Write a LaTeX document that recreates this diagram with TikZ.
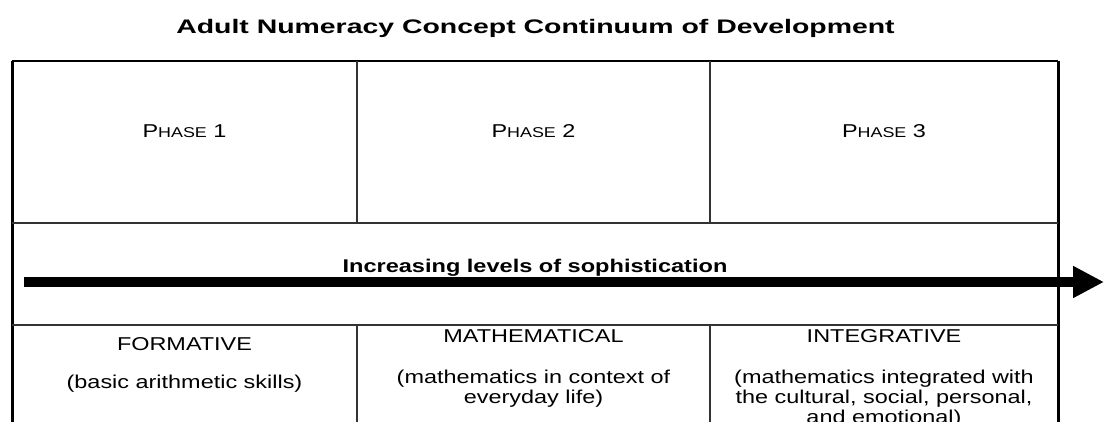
\documentclass[tikz,border=0pt]{standalone}
\usepackage{fontspec}
\setmainfont{Liberation Sans}
\usetikzlibrary{arrows.meta}

\newcommand{\phasesc}[1]{P{\fontsize{14.2}{14.2}\selectfont HASE}~#1}

\tikzset{
    txt/.style={align=center, anchor=base},
    body/.style={txt, font=\fontsize{18.6}{20}\selectfont, xscale=1.26},
    boldbody/.style={txt, font=\fontsize{18.4}{20}\selectfont\bfseries, xscale=1.28},
    titletext/.style={txt, font=\fontsize{19.6}{20}\selectfont\bfseries, xscale=1.45},
    thin/.style={draw=black!80, line width=1.3pt},
    border/.style={draw=black, line width=3pt}
}

\begin{document}
\begin{tikzpicture}[x=1pt,y=1pt]
    \useasboundingbox (0,0) rectangle (1104,421);
    \node[titletext] (title) at (535.5,387.7) {Adult Numeracy Concept Continuum of Development};
    % table
    \draw [black,line width=2.2pt](12,360) -- (1058,360);
    \draw [border](12,360) -- (12,-10);
    \draw [border](1058,360) -- (1058,-10);
    \draw [thin](12,198) -- (1058,198);
    \draw [thin](12,96) -- (1058,96);
    \draw [thin](357,360) -- (357,198);
    \draw [thin](710,360) -- (710,198);
    \draw [thin](357,96) -- (357,-10);
    \draw [thin](710,96) -- (710,-10);
    % phases
    \node[body] (phaseone) at (184.5,283.7) {\phasesc{1}};
    \node[body] (phasetwo) at (533.5,283.7) {\phasesc{2}};
    \node[body] (phasethree) at (884,283.7) {\phasesc{3}};
    % arrow
    \node[boldbody] (levels) at (535,148.3) {Increasing levels of sophistication};
    \coordinate (arrowstart) at (24,139);
    \coordinate (arrowend) at (1104,139);
    \draw [-{Triangle[length=31pt,width=30pt]},black,line width=10.5pt](arrowstart) -- (arrowend);
    % stages
    \node[body] (formative) at (184.5,70.3) {FORMATIVE};
    \node[body] (formativetext) at (184.5,33) {(basic arithmetic skills)};
    \node[body] (mathematical) at (533.5,79) {MATHEMATICAL};
    \node[body] (mathematicaltext) at (533.5,18) {(mathematics in context of\\everyday life)};
    \node[body] (integrative) at (884,79) {INTEGRATIVE};
    \node[body] (integrativetext) at (884,-2) {(mathematics integrated with\\the cultural, social, personal,\\and emotional)};
\end{tikzpicture}
\end{document}
